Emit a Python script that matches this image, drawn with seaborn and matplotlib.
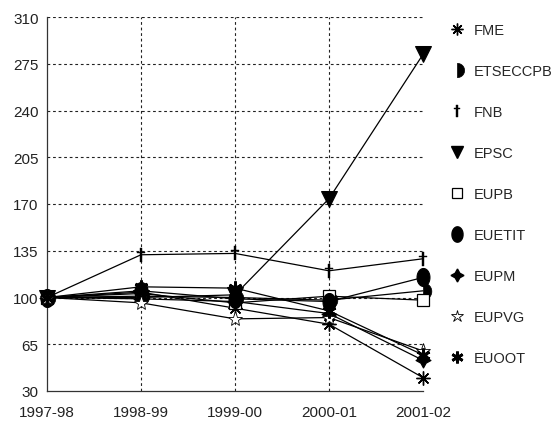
import numpy as np
import pandas as pd
import matplotlib
matplotlib.use("Agg")
import matplotlib.pyplot as plt
from matplotlib.lines import Line2D
import seaborn as sns

# data (index, 1997-98 = 100)
years = ["1997-98", "1998-99", "1999-00", "2000-01", "2001-02"]
fme = [100, 104, 92, 80, 40]
etseccpb = [100, 101, 100, 98, 105]
fnb = [100, 132, 133, 120, 129]
epsc = [100, 100, 102, 174, 282]
eupb = [100, 103, 96, 101, 98]
euetit = [100, 105, 99, 97, 115]
eupm = [100, 99, 97, 88, 53]
eupvg = [100, 96, 84, 85, 60]
euoot = [100, 108, 107, 90, 57]
yticks = [30, 65, 100, 135, 170, 205, 240, 275, 310]

series = {
    "FME": fme, "ETSECCPB": etseccpb, "FNB": fnb, "EPSC": epsc, "EUPB": eupb,
    "EUETIT": euetit, "EUPM": eupm, "EUPVG": eupvg, "EUOOT": euoot,
}

# marker shapes
t = np.linspace(-np.pi / 2, np.pi / 2, 30)
half_circle = list(zip(np.cos(t), np.sin(t))) + [(0, -1)]
t2 = np.linspace(0, 2 * np.pi, 40)
ellipse = list(zip(0.72 * np.cos(t2), np.sin(t2)))

styles = {
    "FME": dict(marker=(8, 2, 0), markersize=10, markeredgewidth=1.0, mfc="k", mec="k"),
    "ETSECCPB": dict(marker=half_circle, markersize=12, mfc="k", mec="k", markeredgewidth=0.5),
    "FNB": dict(marker=r"$\dagger$", markersize=10, mfc="k", mec="k", markeredgewidth=0.3),
    "EPSC": dict(marker="v", markersize=11, mfc="k", mec="k"),
    "EUPB": dict(marker="s", markersize=8, mfc="white", mec="k", markeredgewidth=0.9),
    "EUETIT": dict(marker=ellipse, markersize=13, mfc="k", mec="k"),
    "EUPM": dict(marker=(4, 1, 0), markersize=11, mfc="k", mec="k"),
    "EUPVG": dict(marker="*", markersize=11, mfc="white", mec="k", markeredgewidth=0.6),
    "EUOOT": dict(marker=(6, 2, 0), markersize=10, markeredgewidth=2.0, mfc="k", mec="k"),
}

sns.set_style("white")
plt.rcParams["font.family"] = ["Liberation Sans", "DejaVu Sans"]

fig = plt.figure(figsize=(5.55, 4.27), dpi=100)
ax = fig.add_axes([47 / 555, 1 - 392 / 427, (423 - 47) / 555, (392 - 18) / 427])

for name, vals in series.items():
    df = pd.DataFrame({"year": years, "value": vals})
    sns.lineplot(data=df, x="year", y="value", ax=ax, color="k", linewidth=0.9,
                 clip_on=False, zorder=3, **styles[name])

ax.set_xlim(0, len(years) - 1)
ax.set_ylim(30, 310)
ax.set_yticks(yticks)
ax.set_xlabel("")
ax.set_ylabel("")
ax.tick_params(axis="both", direction="out", length=3, width=0.8, colors="#333333",
               labelsize=11, labelcolor="#222222", pad=3)
ax.tick_params(axis="x", pad=7)

ax.grid(True, linestyle=(0, (2.5, 2.5)), color="#222222", linewidth=0.8)
ax.xaxis.get_gridlines()[-1].set_visible(False)
ax.xaxis.get_gridlines()[0].set_visible(False)
ax.yaxis.get_gridlines()[0].set_visible(False)
for s in ["top", "right"]:
    ax.spines[s].set_visible(False)
for s in ["left", "bottom"]:
    ax.spines[s].set_color("#333333")
    ax.spines[s].set_linewidth(0.9)

handles = []
for name in series:
    st = dict(styles[name])
    st["markersize"] = st["markersize"] * 0.85
    handles.append(Line2D([], [], linestyle="none", color="k", **st))
fig.legend(handles, list(series.keys()), loc="upper left",
           bbox_to_anchor=(450 / 555, 1 - 24 / 427), frameon=False,
           fontsize=10.5, labelspacing=1.85, handlelength=1.0, handletextpad=0.6,
           borderpad=0, borderaxespad=0)

fig.savefig("out.png", dpi=100)
